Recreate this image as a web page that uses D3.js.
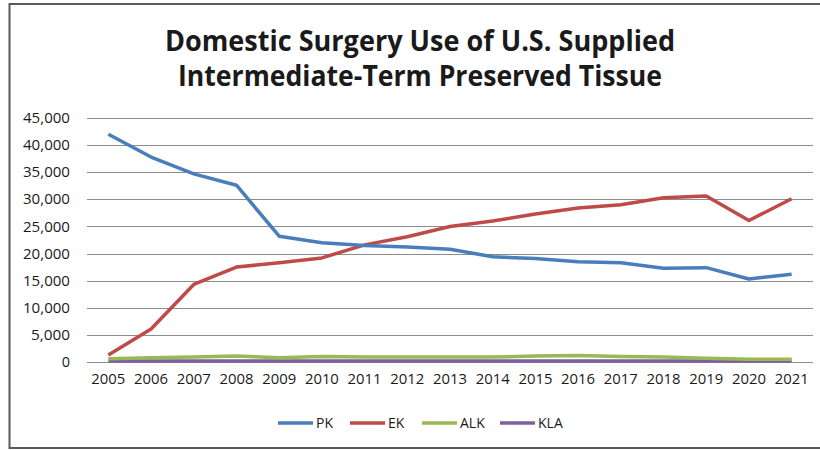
<!DOCTYPE html>
<html>
<head>
<meta charset="utf-8">
<script src="https://cdn.jsdelivr.net/npm/d3@7"></script>
<style>
  body { margin: 0; background: #fff; }
  svg text { font-family: "Open Sans", "Liberation Sans", sans-serif; fill: #1a1a1a; }
</style>
</head>
<body>
<svg id="chart" width="820" height="450"></svg>
<script>
const years = ['2005', '2006', '2007', '2008', '2009', '2010', '2011', '2012', '2013',
  '2014', '2015', '2016', '2017', '2018', '2019', '2020', '2021'];
const pk = [42000, 37800, 34700, 32600, 23200, 22000, 21500, 21200, 20800,
  19400, 19100, 18500, 18300, 17300, 17400, 15300, 16200];
const ek = [1300, 6100, 14300, 17500, 18300, 19200, 21600, 23100, 25000,
  26000, 27300, 28400, 29000, 30300, 30600, 26100, 30100];
const alk = [600, 800, 900, 1100, 800, 1000, 900, 900, 900,
  900, 1100, 1200, 1000, 900, 700, 500, 500];
const kla = [200, 200, 200, 200, 200, 200, 200, 200, 200,
  200, 200, 200, 200, 200, 200, 200, 200];
const yTicks = [0, 5000, 10000, 15000, 20000, 25000, 30000, 35000, 40000, 45000];
const titleLines = ['Domestic Surgery Use of U.S. Supplied', 'Intermediate-Term Preserved Tissue'];

const series = [
  { name: 'PK', values: pk, color: '#4a7ebb' },
  { name: 'EK', values: ek, color: '#be4b48' },
  { name: 'ALK', values: alk, color: '#98b954' },
  { name: 'KLA', values: kla, color: '#7d60a0' }
];

const svg = d3.select('#chart');

// outer frame (right edge runs off the picture)
svg.append('path')
  .attr('d', 'M830,4 H9.5 V448 H830')
  .attr('fill', 'none')
  .attr('stroke', '#5a5a5a')
  .attr('stroke-width', 2);

// title
svg.selectAll('.title')
  .data(titleLines)
  .enter()
  .append('text')
  .attr('class', 'title')
  .attr('x', 420)
  .attr('y', (d, i) => 51 + i * 35)
  .attr('text-anchor', 'middle')
  .attr('font-size', 28)
  .attr('font-weight', 'bold')
  .attr('textLength', (d, i) => (i === 0 ? 510 : 484))
  .attr('lengthAdjust', 'spacingAndGlyphs')
  .text(d => d);

const x = d3.scaleBand().domain(years).range([87, 813]);
const y = d3.scaleLinear().domain([0, 45000]).range([362, 118]);

// gridlines
svg.append('g')
  .selectAll('line')
  .data(yTicks)
  .enter()
  .append('line')
  .attr('x1', 87)
  .attr('x2', 813)
  .attr('y1', d => Math.round(y(d)) + 0.5)
  .attr('y2', d => Math.round(y(d)) + 0.5)
  .attr('stroke', '#8c8c8c')
  .attr('stroke-width', 1.2);

// y axis
const yAxis = svg.append('g')
  .attr('transform', 'translate(87,0)')
  .call(d3.axisLeft(y).tickValues(yTicks).tickSize(0).tickPadding(17)
    .tickFormat(d3.format(',')));
yAxis.select('.domain').remove();
yAxis.selectAll('text')
  .attr('font-size', 14.5)
  .attr('font-family', '"Open Sans", sans-serif')
  .attr('fill', '#1a1a1a')
  .attr('textLength', d => (d === 0 ? null : d < 10000 ? 39 : 47))
  .attr('lengthAdjust', 'spacingAndGlyphs');

// x axis
const xAxis = svg.append('g')
  .attr('transform', 'translate(0,362)')
  .call(d3.axisBottom(x).tickSize(0).tickPadding(12));
xAxis.select('.domain').remove();
xAxis.selectAll('text')
  .attr('font-size', 14)
  .attr('font-family', '"Open Sans", sans-serif')
  .attr('fill', '#1a1a1a')
  .attr('textLength', 34)
  .attr('lengthAdjust', 'spacingAndGlyphs');

// lines
const line = d3.line()
  .x((d, i) => x(years[i]) + x.bandwidth() / 2)
  .y(d => y(d));

svg.append('g')
  .selectAll('path')
  .data(series.slice().reverse())
  .enter()
  .append('path')
  .attr('d', d => line(d.values))
  .attr('fill', 'none')
  .attr('stroke', d => d.color)
  .attr('stroke-width', 3.5)
  .attr('stroke-linejoin', 'round');

// legend
const legendX = [278, 350, 422, 500];
const legend = svg.append('g')
  .selectAll('g')
  .data(series)
  .enter()
  .append('g')
  .attr('transform', (d, i) => `translate(${legendX[i]},423)`);
legend.append('line')
  .attr('x1', 0)
  .attr('x2', 35)
  .attr('stroke', d => d.color)
  .attr('stroke-width', 3.5);
legend.append('text')
  .attr('x', 38)
  .attr('y', 5)
  .attr('font-size', 14)
  .text(d => d.name);
</script>
</body>
</html>
